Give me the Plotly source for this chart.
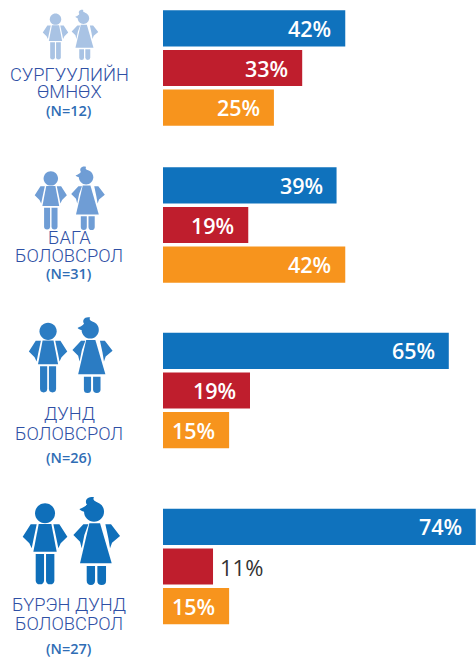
import plotly.graph_objects as go

W, H = 476, 658
# ---- data
groups = ["СУРГУУЛИЙН ӨМНӨХ", "БАГА БОЛОВСРОЛ", "ДУНД БОЛОВСРОЛ", "БҮРЭН ДУНД БОЛОВСРОЛ"]
series = ["A", "B", "C"]
lengths_g1 = [41.9, 32.0, 25.5]
lengths_g2 = [39.9, 19.6, 41.9]
lengths_g3 = [65.7, 20.0, 15.2]
lengths_g4 = [71.9, 11.5, 15.2]
labels_g1 = ["42%", "33%", "25%"]
labels_g2 = ["39%", "19%", "42%"]
labels_g3 = ["65%", "19%", "15%"]
labels_g4 = ["74%", "11%", "15%"]
line1 = ["СУРГУУЛИЙН", "БАГА", "ДУНД", "БҮРЭН ДУНД"]
line2 = ["ӨМНӨХ", "БОЛОВСРОЛ", "БОЛОВСРОЛ", "БОЛОВСРОЛ"]
counts = ["(N=12)", "(N=31)", "(N=26)", "(N=27)"]

# ---- styling / layout
colors = ["#0f72bd", "#bf1e2d", "#f7941d"]
centers = [68, 225, 390.5, 566.5]
span = 119
px_per_unit = 4.35
x0_px = 163
line_ys = [(74.5, 92, 111), (238, 255.5, 273), (413, 433, 457), (604, 623, 648)]
icon_colors = ["#a9c3e4", "#6f9dd5", "#2b7cc3", "#0f6fba"]
icon_scale = [0.57, 0.72, 0.86, 1.0]
icon_cx = [70.7, 70, 71, 71.7]
icon_bottom = [60, 230, 393, 585]

fig = go.Figure()
all_len = [lengths_g1, lengths_g2, lengths_g3, lengths_g4]
all_lab = [labels_g1, labels_g2, labels_g3, labels_g4]
annotations = []
layout_axes = {}
for i in range(4):
    ya = "y" if i == 0 else f"y{i+1}"
    yname = "yaxis" if i == 0 else f"yaxis{i+1}"
    fig.add_trace(go.Bar(x=all_len[i], y=series, orientation="h", xaxis="x", yaxis=ya,
                         marker=dict(color=colors, line=dict(width=0)), showlegend=False,
                         name=groups[i], width=0.91))
    layout_axes[yname] = dict(
        domain=[1 - (centers[i] + span / 2) / H, 1 - (centers[i] - span / 2) / H],
        type="category", categoryorder="array", categoryarray=series[::-1],
        range=[-0.5, 2.5], visible=False, anchor="x", fixedrange=True)
    for s, v, t in zip(series, all_len[i], all_lab[i]):
        outside = v < 14
        annotations.append(dict(x=v, y=s, xref="x", yref=ya, text=t, showarrow=False,
                                xanchor="left" if outside else "right",
                                xshift=5 if outside else -12,
                                font=dict(family="Open Sans", size=22 if outside else 21.5,
                                          weight=400 if outside else 600,
                                          color="#333333" if outside else "#ffffff")))
    y1, y2, y3 = line_ys[i]
    for txt, yy, fnt in [(line1[i], y1, dict(family="Roboto", size=18.3, weight=300, color="#2f50a5")),
                         (line2[i], y2, dict(family="Roboto", size=18.3, weight=300, color="#2f50a5")),
                         (counts[i], y3, dict(family="Open Sans", size=14.5, weight=600, color="#2f6db5"))]:
        annotations.append(dict(x=69 / W, y=1 - yy / H, xref="paper", yref="paper", text=txt,
                                showarrow=False, xanchor="center", yanchor="middle", font=fnt))

# ---- pictograms (decoration), outlines in a local drawing grid
def rleg(x0, x1, y0, y1):
    r = (x1 - x0) / 2
    return [("M", x0, y0), ("L", x1, y0), ("L", x1, y1 - r),
            ("Q", x1, y1, x0 + r, y1), ("Q", x0, y1, x0, y1 - r), ("Z",)]

def circ(cx, cy, r):
    k = 0.5523 * r
    return [("M", cx - r, cy), ("C", cx - r, cy - k, cx - k, cy - r, cx, cy - r),
            ("C", cx + k, cy - r, cx + r, cy - k, cx + r, cy),
            ("C", cx + r, cy + k, cx + k, cy + r, cx, cy + r),
            ("C", cx - k, cy + r, cx - r, cy + k, cx - r, cy), ("Z",)]

def poly(pts):
    return [("M", *pts[0])] + [("L", *p) for p in pts[1:]] + [("Z",)]

icon_parts = [
    circ(135, 100, 30),
    poly([(116, 132), (154, 132), (170, 215), (100, 215)]),
    poly([(92, 133), (110, 133), (100, 180), (95, 205), (88, 190), (68, 170)]),
    poly([(160, 133), (178, 133), (202, 170), (182, 190), (175, 205), (170, 180)]),
    rleg(107, 132, 222, 313), rleg(138, 163, 222, 313),
    circ(282, 95, 30),
    [("M", 262, 76), ("C", 250, 60, 265, 47, 282, 52), ("C", 276, 60, 286, 64, 292, 68), ("Z",)],
    [("M", 266, 70), ("C", 252, 84, 244, 84, 238, 88), ("C", 250, 99, 262, 96, 268, 86), ("Z",)],
    poly([(268, 130), (300, 130), (335, 250), (240, 250)]),
    poly([(250, 133), (265, 133), (253, 165), (245, 205), (240, 185), (220, 165)]),
    poly([(316, 133), (333, 133), (360, 168), (336, 188), (330, 205), (325, 175)]),
    rleg(260, 285, 258, 315), rleg(292, 318, 258, 315),
]

def icon_path(part, scale, cx, bottom):
    out = []
    for seg in part:
        cmd, nums = seg[0], seg[1:]
        parts = [cmd]
        for j in range(0, len(nums), 2):
            px = cx + (nums[j] - 215) / 3 * scale
            py = bottom + (nums[j + 1] - 315) / 3 * scale
            parts.append(f"{px / W:.5f},{1 - py / H:.5f}")
        out.append(" ".join(parts))
    return " ".join(out)

shapes = [dict(type="path", xref="paper", yref="paper",
               path=icon_path(p, icon_scale[i], icon_cx[i], icon_bottom[i]),
               fillcolor=icon_colors[i], line=dict(width=0), layer="above")
          for i in range(4) for p in icon_parts]

fig.update_layout(width=W, height=H, margin=dict(l=0, r=0, t=0, b=0),
                  paper_bgcolor="white", plot_bgcolor="white", bargap=0.09,
                  xaxis=dict(domain=[0, 1], range=[-x0_px / px_per_unit, (W - x0_px) / px_per_unit],
                             visible=False, fixedrange=True, anchor="y"),
                  annotations=annotations, shapes=shapes, **layout_axes)
fig.write_html("out.html", config={"displayModeBar": False},
               post_script="document.body.style.margin='0';document.documentElement.style.overflow='hidden';")
